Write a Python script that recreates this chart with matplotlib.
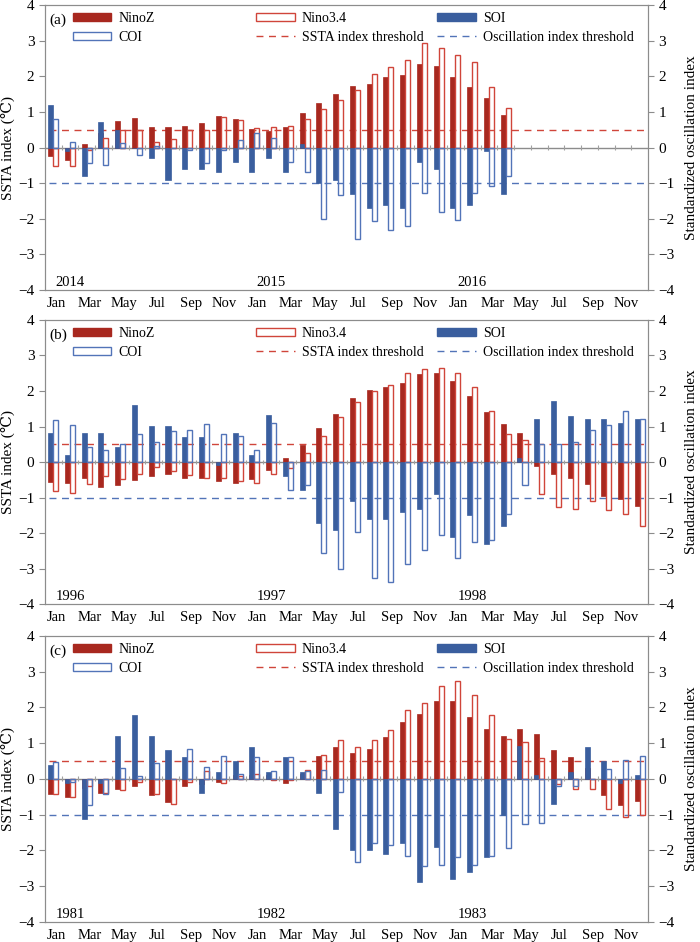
import numpy as np
import matplotlib
matplotlib.use('Agg')
import matplotlib.pyplot as plt
from matplotlib.patches import Patch
from matplotlib.lines import Line2D

plt.rcParams['font.family'] = ['Liberation Serif', 'DejaVu Serif']
plt.rcParams['font.size'] = 10
plt.rcParams['axes.unicode_minus'] = True

nan = np.nan

# datos: 36 meses por panel (Ene año1 .. Dic año3)
month_labels = ['Jan', 'Mar', 'May', 'Jul', 'Sep', 'Nov'] * 3
years_a = ['2014', '2015', '2016']
years_b = ['1996', '1997', '1998']
years_c = ['1981', '1982', '1983']

ninoz_a = [-0.25, -0.35, 0.10, 0.40, 0.74, 0.83, 0.57, 0.57, 0.59, 0.68, 0.88, 0.79,
           0.53, 0.47, 0.57, 0.97, 1.24, 1.50, 1.74, 1.79, 1.97, 2.03, 2.35, 2.29,
           1.97, 1.70, 1.40, 0.90, nan, nan, nan, nan, nan, nan, nan, nan]
nino34_a = [-0.52, -0.53, -0.07, 0.26, 0.50, 0.48, 0.16, 0.24, 0.48, 0.48, 0.86, 0.78,
            0.54, 0.57, 0.59, 0.81, 1.07, 1.33, 1.61, 2.07, 2.25, 2.45, 2.93, 2.79,
            2.59, 2.40, 1.70, 1.11, nan, nan, nan, nan, nan, nan, nan, nan]
soi_a = [1.20, -0.10, -0.80, 0.71, 0.48, 0.00, -0.30, -0.90, -0.60, -0.60, -0.70, -0.40,
         -0.70, -0.30, -0.70, 0.10, -1.00, -0.90, -1.30, -1.70, -1.60, -1.70, -0.40, -0.60,
         -1.70, -1.60, -0.10, -1.30, nan, nan, nan, nan, nan, nan, nan, nan]
coi_a = [0.80, 0.16, -0.43, -0.49, 0.12, -0.20, 0.05, 0.00, -0.06, -0.43, -0.06, 0.22,
         0.41, 0.27, -0.40, -0.70, -2.00, -1.33, -2.58, -2.07, -2.31, -2.20, -1.29, -1.80,
         -2.03, -1.29, -1.09, -0.79, nan, nan, nan, nan, nan, nan, nan, nan]

ninoz_b = [-0.56, -0.59, -0.46, -0.70, -0.64, -0.51, -0.39, -0.35, -0.46, -0.46, -0.54, -0.60,
           -0.49, -0.23, 0.10, 0.49, 0.96, 1.36, 1.81, 2.03, 2.11, 2.23, 2.49, 2.51,
           2.28, 1.87, 1.41, 1.08, 0.82, -0.11, -0.34, -0.46, -0.62, -0.95, -1.04, -1.23]
nino34_b = [-0.83, -0.88, -0.62, -0.39, -0.48, -0.33, -0.14, -0.25, -0.37, -0.46, -0.45, -0.54,
            -0.60, -0.35, -0.18, 0.26, 0.74, 1.27, 1.68, 2.00, 2.18, 2.51, 2.63, 2.64,
            2.51, 2.11, 1.45, 0.78, 0.62, -0.91, -1.27, -1.32, -1.11, -1.36, -1.46, -1.79]
soi_b = [0.81, 0.20, 0.81, 0.81, 0.41, 1.61, 1.01, 1.01, 0.71, 0.71, -0.09, 0.81,
         0.21, 1.31, -0.39, -0.80, -1.71, -1.91, -1.10, -1.61, -1.60, -1.40, -1.31, -0.90,
         -2.10, -1.50, -2.30, -1.79, 0.11, 1.21, 1.71, 1.30, 1.21, 1.21, 1.10, 1.21]
coi_b = [1.18, 1.04, 0.43, 0.34, 0.50, 0.78, 0.57, 0.87, 0.89, 1.06, 0.79, 0.74,
         0.33, 1.10, -0.79, -0.64, -2.57, -3.01, -1.96, -3.26, -3.37, -2.88, -2.47, -2.07,
         -2.71, -2.26, -2.19, -1.46, -0.66, 0.52, 0.52, 0.57, 0.89, 1.03, 1.44, 1.20]

ninoz_c = [-0.41, -0.50, -0.25, -0.39, -0.29, -0.19, -0.45, -0.66, -0.19, -0.15, -0.08, 0.10,
           0.10, 0.10, -0.11, 0.15, 0.63, 0.90, 0.73, 0.83, 1.16, 1.58, 1.82, 2.18,
           2.18, 1.74, 1.40, 1.21, 1.40, 1.25, 0.82, 0.60, 0.30, -0.45, -0.73, -0.63]
nino34_c = [-0.41, -0.52, -0.21, -0.40, -0.31, -0.09, -0.43, -0.69, -0.08, 0.21, -0.11, 0.09,
            0.15, -0.04, -0.02, 0.24, 0.67, 1.10, 0.88, 1.10, 1.37, 1.93, 2.12, 2.59,
            2.75, 2.36, 1.78, 1.12, 1.02, 0.58, -0.15, -0.29, -0.29, -0.84, -1.07, -1.00]
soi_c = [0.40, -0.11, -1.11, -0.11, 1.20, 1.79, 1.20, 0.80, 0.60, -0.40, 0.20, 0.50,
         0.90, 0.20, 0.60, 0.20, -0.40, -1.41, -2.00, -2.00, -2.10, -1.79, -2.90, -1.91,
         -2.79, -2.60, -2.20, -1.00, 0.92, 0.10, -0.70, 0.20, 0.90, 0.50, -0.11, 0.10]
coi_c = [0.48, -0.08, -0.74, -0.41, 0.31, 0.08, 0.45, 0.00, 0.84, 0.32, 0.65, 0.13,
         0.60, 0.22, 0.60, 0.22, 0.26, -0.37, -2.33, -1.79, -1.86, -2.15, -2.45, -2.42,
         -2.18, -2.42, -2.15, -1.93, -1.25, -1.23, -0.20, -0.20, 0.00, 0.28, 0.53, 0.63]

sst_thr = 0.5
osc_thr = -1.0

red_f = '#A8281F'
red_o = '#D0453A'
blue_f = '#3A5E9E'
blue_o = '#5274B8'
grey = '#8C8C8C'

paneles = [
    ('(a)', years_a, ninoz_a, nino34_a, soi_a, coi_a),
    ('(b)', years_b, ninoz_b, nino34_b, soi_b, coi_b),
    ('(c)', years_c, ninoz_c, nino34_c, soi_c, coi_c),
]

fig = plt.figure(figsize=(7, 9.42), dpi=100)
rects = [
    [0.064, 0.6921, 0.862, 0.3026],
    [0.064, 0.3588, 0.862, 0.3015],
    [0.064, 0.0215, 0.862, 0.3033],
]

x = np.arange(1, 37)
w = 0.3

for rect, (tag, years, nz, n34, soi, coi) in zip(rects, paneles):
    ax = fig.add_axes(rect)
    ax.set_xlim(0.5, 36.5)
    ax.set_ylim(-4, 4)

    ax.axhline(0, color=grey, lw=1.0, zorder=1)
    ax.vlines(np.arange(1.5, 36, 1), -0.07, 0.07, color='#A0A0A0', lw=0.8, zorder=1)
    ax.hlines(sst_thr, 0.75, 36.25, colors=red_o, linestyles=(0, (5, 4)), lw=1.0, zorder=1)
    ax.hlines(osc_thr, 0.75, 36.25, colors=blue_o, linestyles=(0, (5, 4)), lw=1.0, zorder=1)

    ax.bar(x - w / 2, nz, width=w, color=red_f, edgecolor=red_f, lw=0.5, zorder=2)
    ax.bar(x - w / 2, soi, width=w, color=blue_f, edgecolor=blue_f, lw=0.5, zorder=3)
    ax.bar(x + w / 2, n34, width=w, facecolor='none', edgecolor=red_o, lw=1.0, zorder=3)
    ax.bar(x + w / 2, coi, width=w, facecolor='none', edgecolor=blue_o, lw=1.0, zorder=4)

    # ejes
    for s in ax.spines.values():
        s.set_color(grey)
    ax.set_yticks(range(-4, 5))
    ax.set_xticks(x[::2] + 0.2)
    ax.set_xticklabels(month_labels)
    ax.tick_params(axis='x', length=0, pad=5, labelsize=10.5)
    ax.tick_params(axis='y', direction='out', length=4, color=grey, labelsize=11)
    ax.set_ylabel('SSTA index (℃)', fontsize=11, labelpad=2)

    ax2 = ax.twinx()
    ax2.set_ylim(-4, 4)
    ax2.set_yticks(range(-4, 5))
    for s in ax2.spines.values():
        s.set_color(grey)
    ax2.tick_params(axis='y', direction='out', length=4, color=grey, labelsize=11)
    ax2.set_ylabel('Standardized oscillation index', fontsize=11, labelpad=7)

    # años
    for i, yr in enumerate(years):
        ax.text(2 + 12 * i, -3.97, yr, ha='center', va='bottom', fontsize=10.5)

    ax.text(0.008, 0.947, tag, transform=ax.transAxes, ha='left', va='center', fontsize=11)

    h1 = [Patch(facecolor=red_f, edgecolor=red_f),
          Patch(facecolor='none', edgecolor=blue_o, lw=1.0)]
    h2 = [Patch(facecolor='none', edgecolor=red_o, lw=1.0),
          Line2D([0], [0], color=red_o, ls=(0, (5, 4)), lw=1.0)]
    h3 = [Patch(facecolor=blue_f, edgecolor=blue_f),
          Line2D([0], [0], color=blue_o, ls=(0, (5, 4)), lw=1.0)]
    l1 = ['NinoZ', 'COI']
    l2 = ['Nino3.4', 'SSTA index threshold']
    l3 = ['SOI', 'Oscillation index threshold']
    legs = []
    for hh, ll, xa in [(h1, l1, 0.046), (h2, l2, 0.350), (h3, l3, 0.650)]:
        lg = ax.legend(hh, ll, loc='upper left', bbox_to_anchor=(xa, 0.975),
                       frameon=False, borderpad=0, borderaxespad=0,
                       handlelength=2.8, handleheight=0.55, handletextpad=0.5,
                       labelspacing=0.4, fontsize=10)
        legs.append(lg)
    for lg in legs[:-1]:
        ax.add_artist(lg)

fig.savefig('out.png', dpi=100)
